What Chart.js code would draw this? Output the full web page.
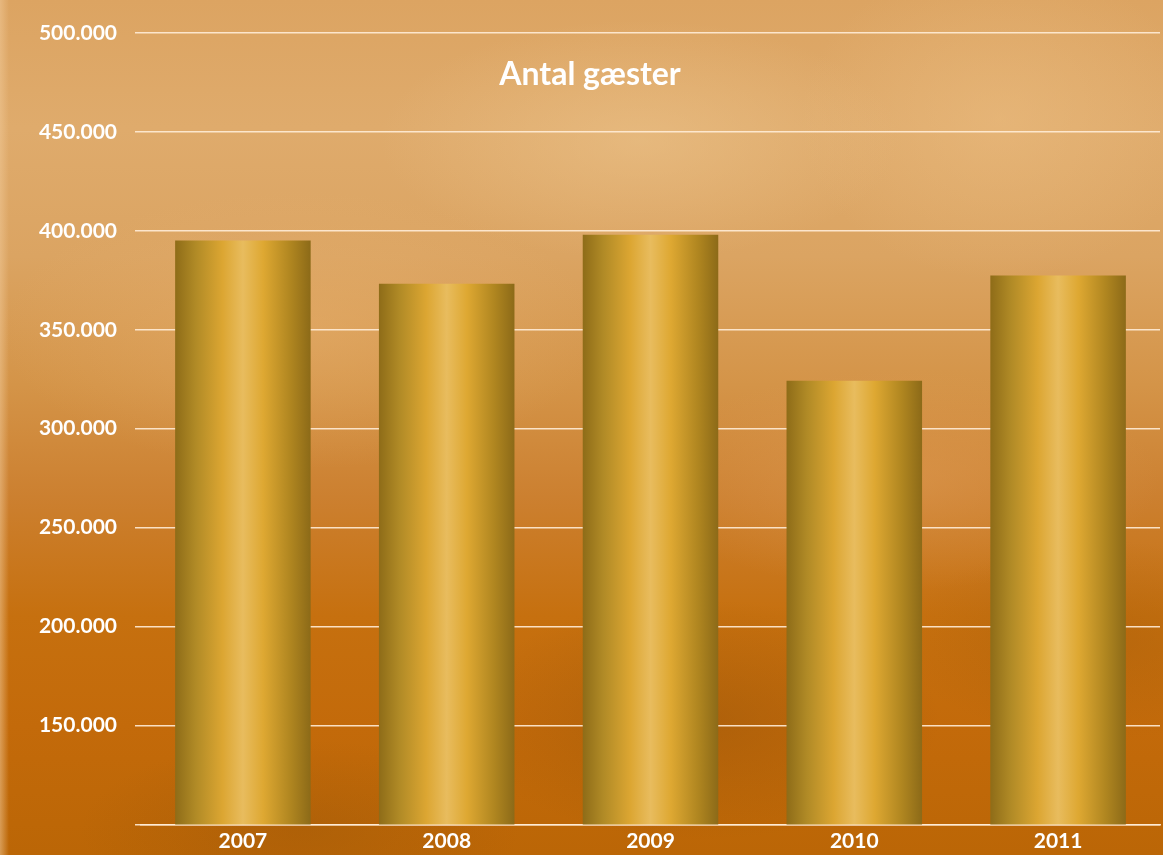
<!DOCTYPE html>
<html>
<head>
<meta charset="utf-8">
<script src="https://cdn.jsdelivr.net/npm/chart.js@4.4.1/dist/chart.umd.min.js"></script>
<style>
html,body{margin:0;padding:0;}
#wrap{position:relative;width:1163px;height:855px;overflow:hidden;
background:
 radial-gradient(ellipse 260px 120px at 640px 140px, rgba(236,196,140,0.55), rgba(236,196,140,0) 100%),
 radial-gradient(ellipse 200px 160px at 1000px 120px, rgba(236,190,130,0.5), rgba(236,190,130,0) 100%),
 radial-gradient(ellipse 300px 140px at 300px 330px, rgba(232,178,112,0.45), rgba(232,178,112,0) 100%),
 radial-gradient(ellipse 260px 110px at 900px 480px, rgba(226,160,90,0.45), rgba(226,160,90,0) 100%),
 radial-gradient(ellipse 240px 120px at 700px 720px, rgba(150,85,10,0.45), rgba(150,85,10,0) 100%),
 radial-gradient(ellipse 220px 90px at 300px 830px, rgba(150,85,10,0.35), rgba(150,85,10,0) 100%),
 radial-gradient(ellipse 200px 100px at 1100px 640px, rgba(160,90,10,0.35), rgba(160,90,10,0) 100%),
 linear-gradient(180deg,#dca462 0%,#dfab6c 15%,#dba462 30%,#d49448 45%,#cc8030 58%,#c6700f 72%,#c36a0a 85%,#bb6606 100%);}
#edge{position:absolute;left:0;top:0;width:9px;height:855px;background:linear-gradient(90deg,rgba(240,200,150,0.55),rgba(240,200,150,0));}
canvas{position:absolute;left:0;top:0;}
</style>
</head>
<body>
<div id="wrap"><div id="edge"></div><canvas id="c" width="1163" height="855"></canvas></div>
<script>
const categories = ['2007','2008','2009','2010','2011'];
const guests = [395100, 373200, 398000, 324200, 377400];
const yTicks = [100000,150000,200000,250000,300000,350000,400000,450000,500000];
const chartTitle = 'Antal gæster';

const BAR_PCT = 0.665;
const FONT = 'Lato, Carlito, Calibri, sans-serif';
function fmt(v){ return String(v).replace(/\B(?=(\d{3})+(?!\d))/g,'.'); }

function barFill(ctx){
  const chart = ctx.chart;
  const xs = chart.scales && chart.scales.x;
  if(!chart.chartArea || !xs || ctx.dataIndex === undefined) return '#d4a030';
  const cx = xs.getPixelForValue(ctx.dataIndex);
  const w = (xs.width / categories.length) * BAR_PCT;
  const g = chart.ctx.createLinearGradient(cx - w/2, 0, cx + w/2, 0);
  g.addColorStop(0.00,'#8e6c18');
  g.addColorStop(0.15,'#b08a26');
  g.addColorStop(0.35,'#dca632');
  g.addColorStop(0.50,'#e8bc5e');
  g.addColorStop(0.65,'#dea832');
  g.addColorStop(0.85,'#b08620');
  g.addColorStop(1.00,'#8c6a18');
  return g;
}

const titlePlugin = {
  id:'titleText',
  afterDraw(chart){
    const c = chart.ctx;
    c.save();
    c.font = 'bold 32px ' + FONT;
    c.fillStyle = '#ffffff';
    c.textAlign = 'center';
    c.textBaseline = 'middle';
    c.fillText(chartTitle, 590, 75);
    c.restore();
  }
};

new Chart(document.getElementById('c'), {
  type:'bar',
  data:{ labels: categories, datasets:[{ data: guests, backgroundColor: barFill, borderWidth:0 }] },
  options:{
    responsive:false, animation:false,
    layout:{ padding:{ top:33, right:3, left:0, bottom:0 } },
    plugins:{ legend:{display:false}, tooltip:{enabled:false}, title:{display:false} },
    datasets:{ bar:{ barPercentage: BAR_PCT, categoryPercentage: 1 } },
    scales:{
      x:{
        afterFit(scale){ scale.height = 30; },
        grid:{ display:false, drawTicks:false },
        border:{ display:true, color:'rgba(255,236,215,0.9)', width:1.5 },
        ticks:{ color:'#ffffff', padding:4, font:{ family:FONT, weight:'bold', size:21, lineHeight:1.2 } }
      },
      y:{
        min:100000, max:500000,
        afterFit(scale){ scale.width = 141; },
        afterBuildTicks(scale){ scale.ticks = yTicks.map(v=>({value:v})); },
        grid:{ color:'rgba(255,236,215,0.9)', lineWidth:1.5, drawTicks:true, tickLength:6, tickColor:'rgba(255,236,215,0.9)' },
        border:{ display:false },
        ticks:{ color:'#ffffff', padding:18, font:{ family:FONT, weight:'bold', size:21 },
          callback(v){ return v === 100000 ? '' : fmt(v); } }
      }
    }
  },
  plugins:[titlePlugin]
});
</script>
</body>
</html>
